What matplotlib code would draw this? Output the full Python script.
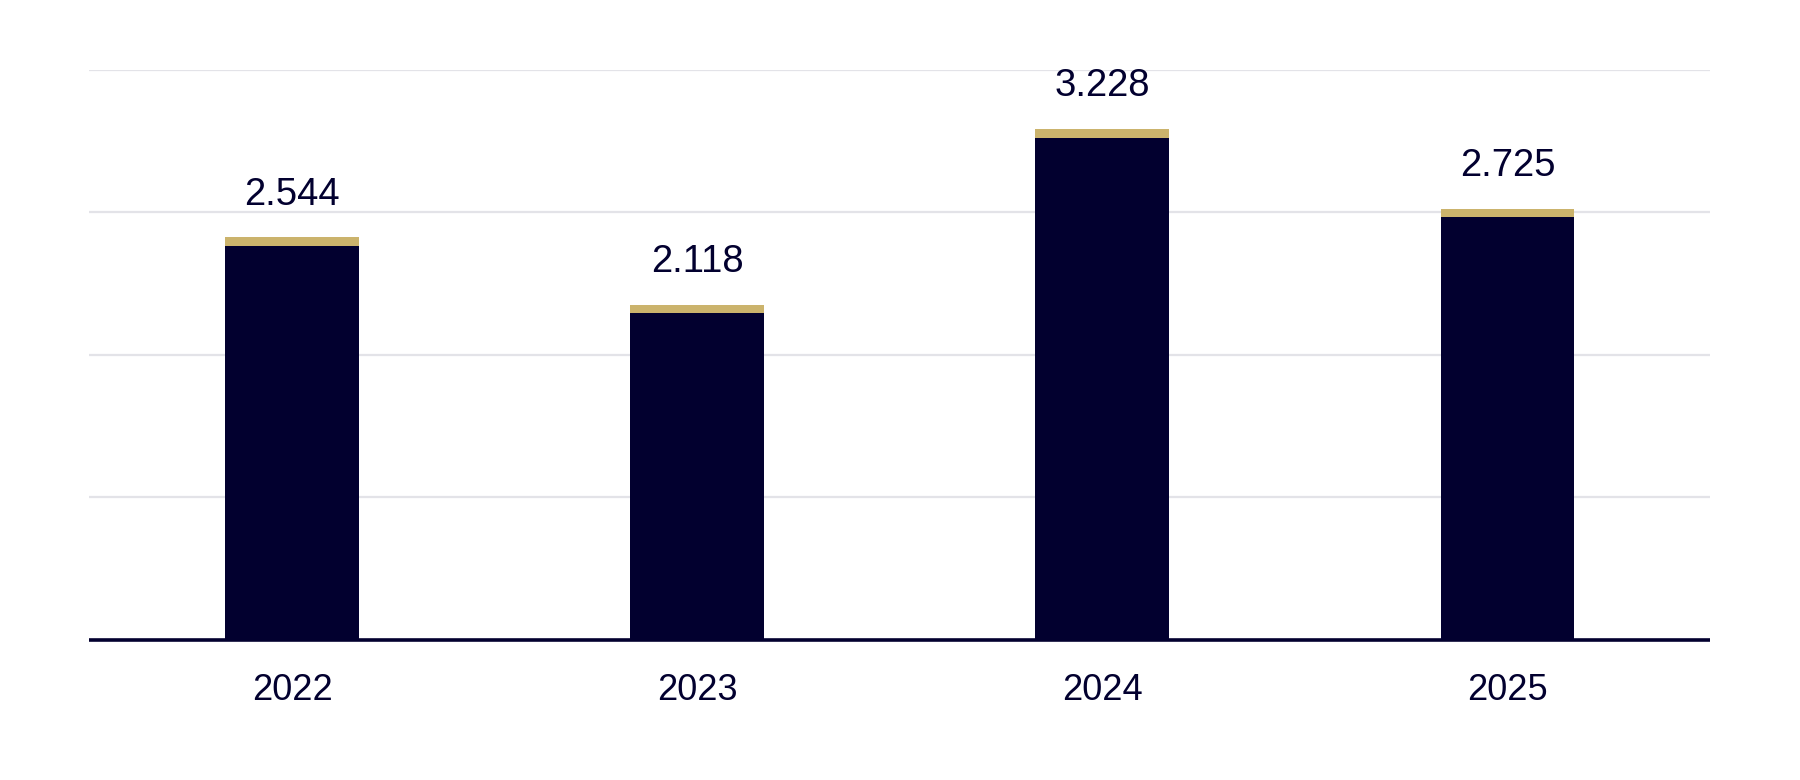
import matplotlib.pyplot as plt

# data
years = ['2022', '2023', '2024', '2025']
totals = [2544, 2118, 3228, 2725]
labels = ['2.544', '2.118', '3.228', '2.725']
gold_part = [55, 55, 55, 55]
navy_part = [t - g for t, g in zip(totals, gold_part)]

NAVY = '#02002F'
GOLD = '#CBB36C'
GRID = '#E3E3E8'

plt.rcParams['font.family'] = ['Liberation Sans', 'DejaVu Sans']

fig = plt.figure(figsize=(18, 7.8), dpi=100)
ax = fig.add_axes([0.0497, 0.1795, 0.9003, 0.7308])

x = range(len(years))
ax.bar(x, navy_part, width=0.33, color=NAVY, zorder=2)
ax.bar(x, gold_part, width=0.33, bottom=navy_part, color=GOLD, zorder=2)

for xi, tot, lab in zip(x, totals, labels):
    ax.annotate(lab, (xi, tot), xytext=(0, 23.5), textcoords='offset points',
                ha='center', va='baseline', fontsize=27.5, color=NAVY)

ax.set_xlim(-0.5, 3.5)
ax.set_ylim(0, 3600)
ax.set_yticks([0, 900, 1800, 2700, 3600])
ax.yaxis.grid(True, color=GRID, linewidth=1.6, zorder=0)
ax.set_axisbelow(True)
ax.tick_params(axis='y', left=False, labelleft=False)
ax.tick_params(axis='x', bottom=False, labelsize=26, labelcolor=NAVY, pad=20)
ax.set_xticks(list(x))
ax.set_xticklabels(years)
for s in ax.spines.values():
    s.set_visible(False)
ax.axhline(0, color=NAVY, linewidth=2.6, zorder=3, clip_on=False,
           solid_capstyle='butt')

fig.savefig('out.png', dpi=100)
